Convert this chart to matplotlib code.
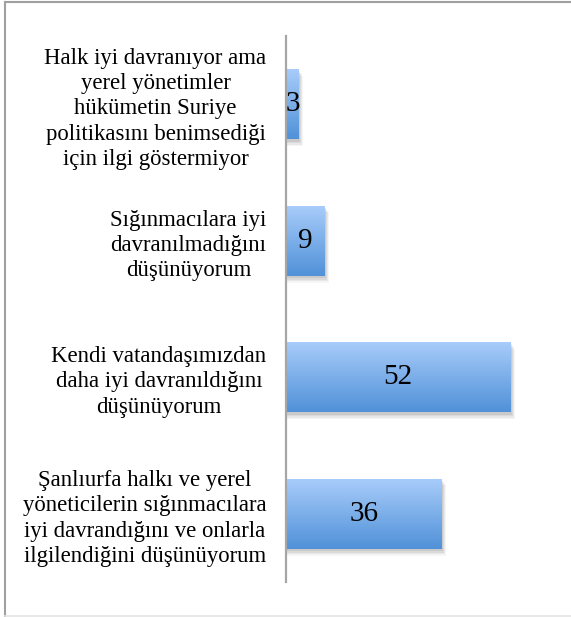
import matplotlib
matplotlib.use("Agg")
import matplotlib.pyplot as plt
import numpy as np
from matplotlib.patches import Rectangle
from matplotlib.colors import LinearSegmentedColormap

# veriler (alttan üste)
categories = [
    "Şanlıurfa halkı ve yerel\nyöneticilerin sığınmacılara\niyi davrandığını ve onlarla\nilgilendiğini düşünüyorum",
    "Kendi vatandaşımızdan\ndaha iyi davranıldığını\ndüşünüyorum",
    "Sığınmacılara iyi\ndavranılmadığını\ndüşünüyorum",
    "Halk iyi davranıyor ama\nyerel yönetimler\nhükümetin Suriye\npolitikasını benimsediği\niçin ilgi göstermiyor",
]
values = [36, 52, 9, 3]

plt.rcParams['font.family'] = ['Liberation Serif', 'DejaVu Serif']

fig = plt.figure(figsize=(5.71, 6.17), dpi=100)
W, H = 571, 617
ax = fig.add_axes([286 / W, 35 / H, 259 / W, 546 / H])

y_pos = np.arange(len(categories))
bars = ax.barh(y_pos, values, height=0.516, color='none', zorder=3)

ax.set_xlim(0, 60)
ax.set_ylim(-0.5, len(categories) - 0.5)

# gradyan + gölge
cmap = LinearSegmentedColormap.from_list('g', ['#5091d8', '#a9cdfb'])
grad = np.linspace(0, 1, 256).reshape(-1, 1)
for rect in bars:
    x0, y0 = rect.get_x(), rect.get_y()
    w, h = rect.get_width(), rect.get_height()
    for k, a in enumerate([0.04, 0.05, 0.06, 0.07]):
        dx = 1.0 - k * 0.22
        dy = 0.05 - k * 0.011
        sh = Rectangle((x0 + 0.3, y0 - dy), w + dx - 0.3, h, color='black', alpha=a,
                       linewidth=0, zorder=1)
        ax.add_patch(sh)
    im = ax.imshow(grad, cmap=cmap, aspect='auto', extent=(x0, x0 + w, y0, y0 + h),
                   origin='lower', zorder=2)
    im.set_clip_path(rect)
    ax.text(x0 + w / 2, y0 + h / 2, str(int(w)), ha='center', va='center',
            fontsize=21, color='black', zorder=4)

ax.set_yticks(y_pos)
ax.set_yticklabels(categories, fontsize=16.4, linespacing=1.27)
for lab in ax.get_yticklabels():
    lab.set_multialignment('center')
ax.tick_params(axis='y', length=0, pad=14)
ax.set_xticks([])
for s in ['top', 'right', 'bottom']:
    ax.spines[s].set_visible(False)
ax.spines['left'].set_color('#a6a6a6')
ax.spines['left'].set_linewidth(1.6)

# çerçeve
fig.add_artist(plt.Line2D([4.5 / W, 4.5 / W], [0, 1 - 1.5 / H], color='#a0a0a0', lw=1.5))
fig.add_artist(plt.Line2D([4.5 / W, 1], [1 - 1.5 / H, 1 - 1.5 / H], color='#a0a0a0', lw=1.5))
fig.add_artist(plt.Line2D([4.5 / W, 1], [1.5 / H, 1.5 / H], color='#e4e4e4', lw=1.2))

fig.savefig('out.png', dpi=100)
